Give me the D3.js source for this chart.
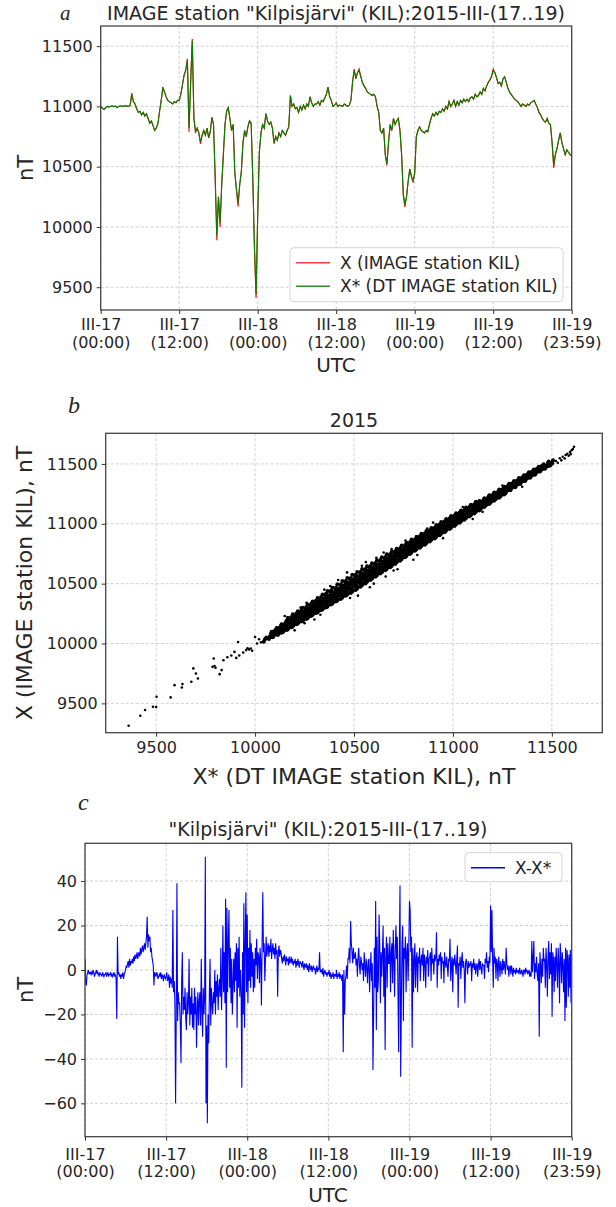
<!DOCTYPE html>
<html>
<head>
<meta charset="utf-8">
<script src="https://cdn.jsdelivr.net/npm/d3@7"></script>
<style>
  body { margin: 0; background: #fff; }
  text { font-family: "DejaVu Sans", sans-serif; fill: #262626; }
  .grid line { stroke: #c4c4c4; stroke-width: 0.8; stroke-dasharray: 3,2; }
  .frame { fill: none; stroke: #444; stroke-width: 1.3; }
  .letter { font-family: "Liberation Serif", serif; font-style: italic; }
</style>
</head>
<body>
<script>
//*********************** DATA ***********************
// sample step of the time series, hours
var stepA = 0.25,
    stepC = 0.1;

var hourTicks = [0, 12, 24, 36, 48, 60, 72],
    tickDay = ["III-17", "III-17", "III-18", "III-18", "III-19", "III-19", "III-19"],
    tickTime = ["(00:00)", "(12:00)", "(00:00)", "(12:00)", "(00:00)", "(12:00)", "(23:59)"],
    ticksA = [9500, 10000, 10500, 11000, 11500],
    ticksB = [9500, 10000, 10500, 11000, 11500],
    ticksC = [-60, -40, -20, 0, 20, 40];

// X, IMAGE station KIL (nT), every 15 min
var xObs = [
  11000,10985,10975,10990, 11000,10995,11000,11005, 10998,11002,10990,11000, 11005,11000,11003,11002,
  11005,11000,11008,11110, 11040,11020,10980,10950, 10960,10930,10950,10920, 10940,10900,10860,10880,
  10840,10800,10820,10860, 10960,11050,11160,11120, 11080,11050,11040,11030, 11020,11040,11030,11050,
  11050,11100,11180,11260, 11300,11395,10790,11200, 11560,10900,10780,10820, 10780,10690,10760,10800,
  10760,10820,10740,10790, 10910,10850,10400,9890, 10250,10000,10350,10600, 10850,10960,10990,10900,
  10800,10850,10450,10300, 10170,10350,10460,10700, 10800,10750,10830,10880, 10860,10400,9820,9410,
  10100,10620,10780,10850, 10820,10940,10880,10850, 10870,10820,10690,10750, 10720,10780,10750,10800,
  10780,10760,10800,10830, 11090,11000,11020,10980, 10990,10950,11000,10970, 11010,10980,11020,11000,
  11080,11030,11000,11020, 11020,11040,11010,11050, 11040,11070,11100,11160, 11080,11050,11000,11010,
  11030,11000,11010,11005, 11000,11020,11010,11000, 11010,11050,11200,11310, 11230,11280,11310,11250,
  11200,11170,11150,11120, 11110,11100,11090,11100, 11080,11000,10950,10800, 10780,10820,10600,10510,
  10700,10850,10800,10900, 10850,10880,10900,10800, 10600,10264,10167,10250, 10380,10480,10420,10370,
  10450,10750,10800,10830, 10800,10790,10780,10800, 10790,10850,10900,10940, 10920,10950,10930,10960,
  10950,10980,10960,11000, 10980,11040,11000,11020, 11050,11000,11040,11010, 11050,11030,11060,11040,
  11060,11040,11070,11080, 11060,11100,11080,11090, 11120,11100,11150,11130, 11170,11200,11220,11250,
  11310,11280,11240,11190, 11200,11170,11230,11245, 11200,11150,11120,11100, 11080,11060,11050,11040,
  11020,11000,11020,11010, 11000,11020,11010,11030, 11040,11050,11020,10990, 10950,10930,10900,10880,
  10870,10900,10860,10850, 10700,10490,10600,10650, 10720,10780,10700,10650, 10600,10640,10620,10600,
  10590
];

// X*, DT IMAGE station KIL (nT), every 15 min
var xDT = [
  11000,10985,10975,10990, 11000,10995,11000,11005, 10998,11002,10990,11000, 11005,11000,11003,11002,
  11005,11000,11008,11100, 11040,11020,10980,10950, 10960,10930,10950,10920, 10940,10900,10860,10880,
  10840,10800,10820,10860, 10960,11050,11150,11120, 11080,11050,11040,11030, 11020,11040,11030,11050,
  11050,11100,11180,11260, 11300,11380,10820,11200, 11545,10900,10790,10820, 10780,10705,10760,10800,
  10760,10820,10740,10790, 10910,10850,10420,9930, 10250,10030,10350,10600, 10850,10960,10990,10900,
  10800,10850,10450,10320, 10200,10350,10460,10700, 10800,10750,10830,10880, 10860,10400,9850,9440,
  10100,10620,10780,10850, 10820,10940,10880,10850, 10870,10820,10700,10750, 10720,10780,10750,10800,
  10780,10760,10800,10830, 11090,11000,11020,10980, 10990,10950,11000,10970, 11010,10980,11020,11000,
  11080,11030,11000,11020, 11020,11040,11010,11050, 11040,11070,11100,11160, 11080,11050,11000,11010,
  11030,11000,11010,11005, 11000,11020,11010,11000, 11010,11050,11200,11300, 11230,11280,11300,11250,
  11200,11170,11150,11120, 11110,11100,11090,11100, 11080,11000,10950,10800, 10780,10820,10600,10525,
  10700,10850,10800,10900, 10850,10880,10900,10800, 10600,10280,10185,10250, 10380,10480,10420,10380,
  10450,10750,10800,10830, 10800,10790,10780,10800, 10790,10850,10900,10940, 10920,10950,10930,10960,
  10950,10980,10960,11000, 10980,11040,11000,11020, 11050,11000,11040,11010, 11050,11030,11060,11040,
  11060,11040,11070,11080, 11060,11100,11080,11090, 11120,11100,11150,11130, 11170,11200,11220,11250,
  11295,11280,11240,11190, 11200,11170,11230,11245, 11200,11150,11120,11100, 11080,11060,11050,11040,
  11020,11000,11020,11010, 11000,11020,11010,11030, 11040,11050,11020,10990, 10950,10930,10900,10880,
  10870,10900,10860,10850, 10700,10515,10600,10650, 10720,10780,10700,10650, 10600,10640,10620,10600,
  10590
];

// X - X* (nT), every 6 min, one row per hour
var diffC = [
  5,-6,-7,-2,-1,0,-2,-1,-1,-2,  -1,-2,0,-1,-3,-2,-1,0,-2,-1,  -2,-3,-1,-2,-2,-3,-1,-2,-3,-2,
  -2,-1,-3,-2,-1,-3,-2,-2,-1,-3,  -2,-3,-2,-1,-3,-2,-4,-22,15,-2,  -1,-3,-2,-4,-2,-3,-1,-4,-2,-1,
  0,2,1,3,4,1,5,2,4,3,  5,3,6,4,7,5,6,8,5,7,  8,6,10,7,9,11,8,10,12,9,
  12,15,24,10,16,13,15,8,10,6,  4,2,-7,-1,-2,-3,-1,-2,-4,-3,  -2,-3,-1,-4,-2,-3,-5,-2,-3,-4,
  -3,-1,-5,-4,-2,-8,-3,-6,-4,-8,  27,-10,-5,-15,-60,-20,39,-23,-10,-15,  -15,-25,-42,-5,8,-20,-12,-18,-8,-22,
  -27,-10,-20,-15,5,-25,-12,-20,-8,-26,  -15,-27,-8,-20,-12,-35,-18,-10,-25,-14,  -10,-25,5,-18,-30,-8,-20,-12,51,-60,
  -25,-69,-20,-33,-10,5,-25,-8,-15,-20,  -10,-15,0,-20,-5,-12,-2,-18,-8,-4,  -12,10,-18,-5,20,-10,8,-15,32,-44,
  28,-10,12,27,-8,10,-15,5,-20,-6,  5,-10,8,-5,12,-26,10,-8,15,-12,  0,-10,-53,8,-20,30,-26,12,35,-10,
  25,-15,10,-5,18,-8,12,-3,8,-10,  5,-8,10,2,14,-4,8,6,-6,10,  4,-16,12,35,8,12,-5,5,15,6,
  10,12,6,11,8,14,5,9,12,7,  10,5,12,7,9,-12,8,11,6,9,  8,5,3,6,4,7,5,2,6,4,
  5,2,6,3,4,6,3,5,2,4,  3,5,1,4,2,5,3,1,4,3,  3,1,4,2,0,3,2,1,3,0,
  2,-1,3,1,0,2,-1,1,2,0,  1,-2,0,2,-1,1,0,8,-1,0,  0,-2,1,-3,-1,0,-2,-1,-3,-1,
  -2,0,-3,-1,-4,-2,-3,-1,-4,-2,  -2,-3,0,-4,-2,-3,-1,-4,-2,-3,  -5,-2,-37,0,-20,-5,-3,2,-4,5,
  5,10,3,22,12,8,3,10,5,6,  8,2,5,-3,6,10,2,-2,6,4,  0,3,-5,8,2,-3,5,1,-6,4,
  5,-10,0,8,-5,3,-45,-20,10,-8,  31,-27,15,-10,-5,25,12,-15,8,-3,  8,20,-12,10,-36,5,15,-8,12,3,
  3,15,-10,8,12,-6,18,5,-12,10,  20,5,15,-10,-37,8,38,-48,-15,12,  20,-23,10,5,15,-10,8,12,-5,10,
  31,27,8,15,-35,10,-10,5,12,-8,  5,8,-10,6,3,10,-5,4,7,2,  10,-5,7,4,-8,6,3,9,-3,5,
  6,8,-5,10,3,5,-2,7,4,6,  17,-8,5,2,7,4,8,-4,6,3,  4,-6,8,3,1,6,2,-3,5,4,
  14,-5,3,6,-10,5,2,7,3,-2,  5,11,-17,3,2,6,-4,4,8,1,  4,0,-15,3,5,2,-2,4,1,3,
  2,4,-5,3,1,5,0,3,-2,2,  3,-3,2,5,0,4,1,-2,3,2,  2,-4,5,3,8,1,4,-1,6,3,
  29,8,27,5,-8,10,3,6,-4,5,  3,-5,6,2,-3,4,1,-2,5,0,  4,1,-2,10,3,0,2,-3,1,2,
  -2,2,0,-3,1,-1,0,-2,1,-1,  -1,0,-2,1,-1,-2,0,-1,-3,0,  0,-2,1,-1,0,-2,-1,0,-3,-1,
  -3,13,-1,5,13,-4,3,-1,6,-2,  -5,3,-30,8,2,-6,5,-3,10,4,  5,-8,10,3,-12,6,13,-4,8,-2,
  12,-21,8,5,-10,6,-5,10,3,-8,  10,3,-15,12,6,-6,8,2,-10,5,  -23,10,-17,9,5,-12,7,-8,9,-15,
  -8
];

// scatter 2015: [X*, X] pairs, sparse low tail
var scatterTail = [
  [9361,9313],[9420,9397],[9444,9444],[9484,9472],[9500,9470],[9502,9555],[9573,9550],[9593,9652],
  [9633,9661],[9630,9633],[9678,9680],[9688,9792],[9701,9750],[9711,9708],[9785,9805],[9795,9812],
  [9800,9798],[9791,9875],[9821,9744],[9831,9778],[9840,9860],[9860,9885],[9880,9900],[9896,9930],
  [9914,10013],[9955,9945],[9962,9960],[9970,9950],[9978,9958],[9985,9940],[10000,10055],[10010,10000],
  [10020,10035],[10030,10010],[9920,9900],[9905,9880],[9940,9925]
];

// scatter 2015: [X*, X] pairs, dense band
var scatterBand = [
  [10050,10035],[10044,10015],[10057,10050],
  [10075,10060],[10070,10038],[10081,10085],[10078,10052],
  [10100,10090],[10094,10062],[10106,10118],[10103,10078],[10097,10105],
  [10125,10115],[10119,10082],[10131,10148],[10128,10100],[10122,10132],[10133,10090],
  [10150,10140],[10144,10105],[10156,10178],[10153,10125],[10147,10160],[10158,10112],
  [10175,10168],[10169,10128],[10181,10205],[10178,10150],[10172,10188],[10183,10135],[10166,10215],
  [10200,10195],[10194,10152],[10206,10235],[10203,10175],[10197,10215],[10208,10160],[10191,10245],
  [10225,10220],[10219,10175],[10231,10262],[10228,10200],[10222,10242],[10233,10183],[10216,10270],[10230,10230],
  [10250,10245],[10244,10198],[10256,10290],[10253,10225],[10247,10268],[10258,10205],[10241,10298],[10255,10255],
  [10275,10272],[10269,10225],[10281,10318],[10278,10250],[10272,10295],[10283,10230],[10266,10325],[10280,10282],
  [10300,10298],[10294,10248],[10306,10345],[10303,10275],[10297,10322],[10308,10255],[10291,10352],[10305,10310],
  [10325,10324],[10319,10272],[10331,10372],[10328,10300],[10322,10348],[10333,10278],[10316,10380],[10330,10335],[10320,10310],
  [10350,10350],[10344,10295],[10356,10400],[10353,10325],[10347,10375],[10358,10300],[10341,10410],[10355,10362],[10345,10338],
  [10375,10376],[10369,10320],[10381,10428],[10378,10350],[10372,10402],[10383,10325],[10366,10438],[10380,10390],[10370,10362],
  [10400,10402],[10394,10345],[10406,10455],[10403,10375],[10397,10428],[10408,10350],[10391,10465],[10405,10415],[10395,10388],
  [10425,10428],[10419,10370],[10431,10482],[10428,10400],[10422,10455],[10433,10372],[10416,10495],[10430,10440],[10420,10412],
  [10450,10455],[10444,10395],[10456,10510],[10453,10425],[10447,10482],[10458,10398],[10441,10522],[10455,10468],[10445,10440],
  [10475,10480],[10469,10420],[10481,10535],[10478,10450],[10472,10508],[10483,10422],[10466,10548],[10480,10495],[10470,10465],
  [10500,10506],[10494,10445],[10506,10560],[10503,10478],[10497,10535],[10508,10448],[10491,10575],[10505,10520],[10495,10490],
  [10525,10532],[10519,10472],[10531,10588],[10528,10505],[10522,10560],[10533,10475],[10516,10598],[10530,10545],[10520,10518],
  [10550,10558],[10544,10500],[10556,10612],[10553,10530],[10547,10585],[10558,10502],[10541,10622],[10555,10572],[10545,10545],
  [10575,10584],[10569,10528],[10581,10635],[10578,10556],[10572,10610],[10583,10530],[10566,10645],[10580,10598],[10570,10570],
  [10600,10610],[10594,10555],[10606,10660],[10603,10582],[10597,10635],[10608,10558],[10591,10670],[10605,10622],[10595,10596],
  [10625,10636],[10619,10582],[10631,10685],[10628,10610],[10622,10660],[10633,10585],[10616,10695],[10630,10648],[10620,10622],
  [10650,10662],[10644,10608],[10656,10710],[10653,10635],[10647,10686],[10658,10612],[10641,10720],[10655,10675],[10645,10648],
  [10675,10688],[10669,10635],[10681,10735],[10678,10660],[10672,10712],[10683,10638],[10666,10745],[10680,10700],[10670,10674],
  [10700,10714],[10694,10662],[10706,10760],[10703,10688],[10697,10738],[10708,10665],[10691,10768],[10705,10726],[10695,10700],
  [10725,10740],[10719,10690],[10731,10785],[10728,10715],[10722,10762],[10733,10692],[10716,10792],[10730,10752],
  [10750,10766],[10744,10718],[10756,10810],[10753,10740],[10747,10788],[10758,10720],[10741,10818],[10755,10778],
  [10775,10792],[10769,10745],[10781,10835],[10778,10768],[10772,10815],[10783,10748],[10766,10842],[10780,10805],
  [10800,10818],[10794,10772],[10806,10860],[10803,10795],[10797,10840],[10808,10775],[10791,10868],[10805,10830],
  [10825,10843],[10819,10798],[10831,10885],[10828,10820],[10822,10865],[10833,10800],[10816,10892],[10830,10856],
  [10850,10868],[10844,10824],[10856,10910],[10853,10846],[10847,10890],[10858,10826],[10841,10916],[10855,10880],
  [10875,10893],[10869,10850],[10881,10935],[10878,10872],[10872,10915],[10883,10852],[10866,10940],[10880,10905],
  [10900,10918],[10894,10876],[10906,10958],[10903,10898],[10897,10940],[10908,10878],[10891,10965],[10905,10930],
  [10925,10944],[10919,10902],[10931,10984],[10928,10924],[10922,10965],[10933,10905],[10916,10990],[10930,10955],
  [10950,10970],[10944,10928],[10956,11010],[10953,10950],[10947,10990],[10958,10930],[10941,11016],[10955,10982],
  [10975,10995],[10969,10955],[10981,11035],[10978,10975],[10972,11015],[10983,10956],[10966,11040],[10980,11006],
  [11000,11020],[10994,10980],[11006,11060],[11003,11000],[10997,11040],[11008,10982],[10991,11065],[11005,11030],
  [11025,11045],[11019,11005],[11031,11082],[11028,11025],[11022,11064],[11033,11008],[11016,11088],[11030,11055],
  [11050,11070],[11044,11032],[11056,11108],[11053,11050],[11047,11090],[11058,11034],[11041,11112],
  [11075,11095],[11069,11058],[11081,11132],[11078,11076],[11072,11114],[11083,11060],[11066,11136],
  [11100,11120],[11094,11084],[11106,11156],[11103,11102],[11097,11138],[11108,11086],[11091,11160],
  [11125,11145],[11119,11110],[11131,11180],[11128,11127],[11122,11163],[11133,11112],[11116,11184],
  [11150,11170],[11144,11136],[11156,11204],[11153,11152],[11147,11187],[11158,11140],
  [11175,11195],[11169,11162],[11181,11228],[11178,11178],[11172,11212],[11183,11166],
  [11200,11220],[11194,11188],[11206,11252],[11203,11203],[11197,11236],[11208,11192],
  [11225,11245],[11219,11214],[11231,11276],[11228,11228],[11222,11260],[11233,11218],
  [11250,11270],[11244,11240],[11256,11300],[11253,11254],[11247,11285],[11258,11244],
  [11275,11295],[11269,11266],[11281,11324],[11278,11280],[11272,11310],
  [11300,11320],[11294,11292],[11306,11348],[11303,11305],[11297,11334],
  [11325,11345],[11319,11318],[11331,11372],[11328,11330],[11322,11358],
  [11350,11370],[11344,11344],[11356,11396],[11353,11356],[11347,11382],
  [11375,11395],[11369,11370],[11381,11420],[11378,11382],[11372,11408],
  [11400,11420],[11394,11396],[11406,11444],[11403,11408],[11397,11432],
  [11425,11445],[11419,11422],[11431,11468],[11428,11434],[11422,11456],
  [11450,11468],[11444,11446],[11456,11490],[11453,11458],[11447,11480],
  [11475,11490],[11469,11470],[11481,11510],[11478,11480],
  [11500,11512],[11494,11494],[11506,11530],[11503,11503]
];

// scatter 2015: more band points, between the columns above
var scatterBand2 = [
  [10087,10076],[10090,10052],[10084,10098],
  [10112,10102],[10115,10072],[10109,10130],[10113,10088],
  [10137,10128],[10140,10094],[10134,10160],[10138,10112],[10136,10145],
  [10162,10155],[10165,10118],[10159,10190],[10163,10138],[10160,10172],
  [10187,10181],[10190,10140],[10184,10222],[10188,10162],[10185,10202],
  [10212,10207],[10215,10165],[10209,10250],[10213,10188],[10210,10228],
  [10237,10232],[10240,10188],[10234,10278],[10238,10212],[10235,10255],
  [10262,10258],[10265,10212],[10259,10305],[10263,10238],[10260,10282],[10266,10222],
  [10287,10285],[10290,10238],[10284,10332],[10288,10262],[10285,10308],[10291,10245],
  [10312,10311],[10315,10260],[10309,10360],[10313,10288],[10310,10335],[10316,10270],
  [10337,10337],[10340,10285],[10334,10388],[10338,10312],[10335,10362],[10341,10292],
  [10362,10363],[10365,10308],[10359,10415],[10363,10338],[10360,10390],[10366,10315],
  [10387,10389],[10390,10332],[10384,10442],[10388,10362],[10385,10415],[10391,10340],
  [10412,10415],[10415,10358],[10409,10468],[10413,10388],[10410,10442],[10416,10365],
  [10437,10441],[10440,10382],[10434,10495],[10438,10412],[10435,10468],[10441,10390],
  [10462,10467],[10465,10408],[10459,10522],[10463,10438],[10460,10495],[10466,10415],
  [10487,10493],[10490,10432],[10484,10548],[10488,10462],[10485,10520],[10491,10440],
  [10512,10519],[10515,10458],[10509,10574],[10513,10490],[10510,10548],[10516,10465],
  [10537,10545],[10540,10486],[10534,10600],[10538,10515],[10535,10572],[10541,10492],
  [10562,10571],[10565,10515],[10559,10622],[10563,10542],[10560,10598],[10566,10520],
  [10587,10597],[10590,10542],[10584,10648],[10588,10570],[10585,10622],[10591,10548],
  [10612,10623],[10615,10568],[10609,10672],[10613,10596],[10610,10648],[10616,10575],
  [10637,10649],[10640,10595],[10634,10698],[10638,10622],[10635,10672],[10641,10600],
  [10662,10675],[10665,10622],[10659,10722],[10663,10648],[10660,10698],[10666,10628],
  [10687,10701],[10690,10648],[10684,10748],[10688,10675],[10685,10725],[10691,10655],
  [10712,10727],[10715,10676],[10709,10772],[10713,10702],[10710,10750],
  [10737,10753],[10740,10704],[10734,10798],[10738,10728],[10735,10776],
  [10762,10779],[10765,10732],[10759,10822],[10763,10755],[10760,10800],
  [10787,10805],[10790,10758],[10784,10848],[10788,10782],[10785,10826],
  [10812,10830],[10815,10785],[10809,10872],[10813,10808],[10810,10852],
  [10837,10855],[10840,10812],[10834,10898],[10838,10834],[10835,10876],
  [10862,10880],[10865,10838],[10859,10922],[10863,10860],[10860,10900],
  [10887,10905],[10890,10864],[10884,10946],[10888,10885],[10885,10926],
  [10912,10931],[10915,10890],[10909,10970],[10913,10910],[10910,10952],
  [10937,10957],[10940,10916],[10934,10996],[10938,10937],[10935,10978],
  [10962,10982],[10965,10942],[10959,11022],[10963,10962],[10960,11002],
  [10987,11007],[10990,10968],[10984,11046],[10988,10988],[10985,11026],
  [11012,11032],[11015,10994],[11009,11070],[11013,11012],[11010,11052],
  [11037,11057],[11040,11020],[11034,11094],[11038,11038],[11035,11076],
  [11062,11082],[11065,11046],[11059,11118],[11063,11064],
  [11087,11107],[11090,11072],[11084,11142],[11088,11090],
  [11112,11132],[11115,11098],[11109,11166],[11113,11116],
  [11137,11157],[11140,11124],[11134,11190],[11138,11140],
  [11162,11182],[11165,11150],[11159,11214],[11163,11166],
  [11187,11207],[11190,11176],[11184,11238],[11188,11192],
  [11212,11232],[11215,11202],[11209,11262],[11213,11218],
  [11237,11257],[11240,11228],[11234,11286],[11238,11244],
  [11262,11282],[11265,11254],[11259,11310],
  [11287,11307],[11290,11280],[11284,11334],
  [11312,11332],[11315,11306],[11309,11358],
  [11337,11357],[11340,11332],[11334,11382],
  [11362,11382],[11365,11358],[11359,11406],
  [11387,11407],[11390,11384],[11384,11430],
  [11412,11432],[11415,11410],[11409,11454],
  [11437,11456],[11440,11436],[11434,11476],
  [11462,11479],[11465,11460],[11459,11498],
  [11487,11501],[11490,11484],[11484,11520]
];

// scatter 2015: sparse top end and points off the band
var scatterOut = [
  [11520,11525],[11530,11510],[11540,11548],[11548,11530],[11555,11560],[11565,11545],[11570,11575],
  [11578,11585],[11585,11568],[11592,11600],[11600,11615],[11606,11625],[11612,11644],[11595,11582],
  [10465,10594],[10613,10717],[10520,10400],[10660,10560],[10380,10480],[10800,10700],[10300,10200],
  [10230,10300],[10560,10680],[10720,10620],[10900,11010],[11100,11040],
  [10150,10230],[10200,10110],[10260,10340],[10330,10240],[10420,10530],[10480,10380],[10540,10650],
  [10600,10500],[10650,10760],[10700,10610],[10760,10860],[10820,10740],[10870,10960],[10950,10880],
  [11050,11140],[11150,11100],[11250,11320],[11350,11310],[10350,10450],[10250,10170],[10580,10470],
  [10690,10790]
];

//*********************** LAYOUT ***********************
var width = 616,
    height = 1207,
    boxA = {left: 100.7, right: 571.7, top: 26, bottom: 310},
    boxB = {left: 105.7, right: 602.3, top: 433.3, bottom: 732.7},
    boxC = {left: 85, right: 571.7, top: 843.3, bottom: 1136.7};

var svg = d3.select("body").append("svg")
    .attr("width", width)
    .attr("height", height);

var xA = d3.scaleLinear().domain([0, 72]).range([boxA.left, boxA.right]),
    yA = d3.scaleLinear().domain([9311, 11667]).range([boxA.bottom, boxA.top]),
    xB = d3.scaleLinear().domain([9245, 11755]).range([boxB.left, boxB.right]),
    yB = d3.scaleLinear().domain([9255, 11756]).range([boxB.bottom, boxB.top]),
    xC = d3.scaleLinear().domain([0, 72]).range([boxC.left, boxC.right]),
    yC = d3.scaleLinear().domain([-75, 57]).range([boxC.bottom, boxC.top]);

var fmt = d3.format("d");

//*********************** HELPERS ***********************
function addGrid(box, xs, ys, xv, yv) {
  var g = svg.append("g").attr("class", "grid");
  g.selectAll("line.gx").data(xv).enter().append("line")
    .attr("class", "gx")
    .attr("x1", function(d) { return xs(d); })
    .attr("x2", function(d) { return xs(d); })
    .attr("y1", box.top)
    .attr("y2", box.bottom);
  g.selectAll("line.gy").data(yv).enter().append("line")
    .attr("class", "gy")
    .attr("y1", function(d) { return ys(d); })
    .attr("y2", function(d) { return ys(d); })
    .attr("x1", box.left)
    .attr("x2", box.right);
}

function addFrame(box) {
  svg.append("rect")
    .attr("class", "frame")
    .attr("x", box.left)
    .attr("y", box.top)
    .attr("width", box.right - box.left)
    .attr("height", box.bottom - box.top);
}

function addClip(id, box) {
  svg.append("defs").append("clipPath")
    .attr("id", id)
    .append("rect")
    .attr("x", box.left)
    .attr("y", box.top)
    .attr("width", box.right - box.left)
    .attr("height", box.bottom - box.top);
}

function styleAxis(ax) {
  ax.attr("font-family", "DejaVu Sans, sans-serif")
    .attr("font-size", 16)
    .attr("color", "#333");
  ax.select(".domain").remove();
  ax.selectAll(".tick text").attr("fill", "#262626");
}

function leftAxis(box, ys, vals) {
  var ax = svg.append("g")
    .attr("transform", "translate(" + box.left + ",0)")
    .call(d3.axisLeft(ys).tickValues(vals).tickFormat(fmt).tickSize(4).tickPadding(4));
  styleAxis(ax);
}

function timeAxis(box, xs, dy1, dy2) {
  var ax = svg.append("g")
    .attr("transform", "translate(0," + box.bottom + ")")
    .call(d3.axisBottom(xs).tickValues(hourTicks).tickSize(4).tickFormat(""));
  styleAxis(ax);
  ax.selectAll(".tick text").each(function(d, i) {
    var t = d3.select(this).attr("y", null).attr("dy", null);
    t.append("tspan").attr("x", 0).attr("y", dy1).text(tickDay[i]);
    t.append("tspan").attr("x", 0).attr("y", dy2).text(tickTime[i]);
  });
}

function addText(x, y, s, size, anchor, rot) {
  var t = svg.append("text")
    .attr("x", x)
    .attr("y", y)
    .attr("font-size", size)
    .attr("text-anchor", anchor || "middle")
    .text(s);
  if (rot) t.attr("transform", "rotate(-90," + x + "," + y + ")");
  return t;
}

function addLegend(x, y, w, h, items) {
  var g = svg.append("g").attr("transform", "translate(" + x + "," + y + ")");
  g.append("rect")
    .attr("width", w)
    .attr("height", h)
    .attr("rx", 4)
    .attr("fill", "#fff")
    .attr("fill-opacity", 0.85)
    .attr("stroke", "#d6d6d6");
  items.forEach(function(it, i) {
    var cy = 15 + i * 23.5;
    g.append("line")
      .attr("x1", 6).attr("x2", 40)
      .attr("y1", cy).attr("y2", cy)
      .attr("stroke", it.color)
      .attr("stroke-width", 1.5);
    g.append("text")
      .attr("x", 50)
      .attr("y", cy + 6)
      .attr("font-size", 17)
      .text(it.label);
  });
}

//*********************** PANEL A ***********************
addClip("clipA", boxA);
addGrid(boxA, xA, yA, hourTicks, ticksA);

var lineA = function(vals) {
  return d3.line()
    .x(function(d, i) { return xA(i * stepA); })
    .y(function(d) { return yA(d); })(vals);
};

svg.append("path")
  .attr("d", lineA(xObs))
  .attr("clip-path", "url(#clipA)")
  .attr("fill", "none")
  .attr("stroke", "#ff0000")
  .attr("stroke-width", 1.1);

svg.append("path")
  .attr("d", lineA(xDT))
  .attr("clip-path", "url(#clipA)")
  .attr("fill", "none")
  .attr("stroke", "#008000")
  .attr("stroke-width", 1.1);

addFrame(boxA);
leftAxis(boxA, yA, ticksA);
timeAxis(boxA, xA, 20, 37.5);
addText(336, 19.5, 'IMAGE station "Kilpisjärvi" (KIL):2015-III-(17..19)', 19);
addText(336, 372, "UTC", 20);
addText(33, 168, "nT", 21, "middle", true);
addText(60, 19.5, "a", 21, "start").attr("class", "letter");
addLegend(290, 247.7, 273, 54, [
  {label: "X (IMAGE station KIL)", color: "#ff4040"},
  {label: "X* (DT IMAGE station KIL)", color: "#2e8b2e"}
]);

//*********************** PANEL B ***********************
addClip("clipB", boxB);
addGrid(boxB, xB, yB, ticksB, ticksB);

var dots = svg.append("g").attr("clip-path", "url(#clipB)");

// sparse points drawn small, the dense band a bit larger so it closes up
[[scatterTail, 1.3], [scatterOut, 1.3], [scatterBand, 2], [scatterBand2, 2]].forEach(function(s) {
  dots.append("g")
    .selectAll("circle")
    .data(s[0])
    .enter()
    .append("circle")
    .attr("cx", function(d) { return xB(d[0]); })
    .attr("cy", function(d) { return yB(d[1]); })
    .attr("r", s[1])
    .attr("fill", "#000");
});

addFrame(boxB);
leftAxis(boxB, yB, ticksB);
var axB = svg.append("g")
  .attr("transform", "translate(0," + boxB.bottom + ")")
  .call(d3.axisBottom(xB).tickValues(ticksB).tickFormat(fmt).tickSize(4).tickPadding(5));
styleAxis(axB);
addText(354, 427, "2015", 19);
addText(354, 784, "X* (DT IMAGE station KIL), nT", 22);
addText(32, 583, "X (IMAGE station KIL), nT", 22, "middle", true);
addText(68, 413, "b", 24, "start").attr("class", "letter");

//*********************** PANEL C ***********************
addClip("clipC", boxC);
addGrid(boxC, xC, yC, hourTicks, ticksC);

svg.append("path")
  .datum(diffC)
  .attr("d", d3.line()
    .x(function(d, i) { return xC(i * stepC); })
    .y(function(d) { return yC(d); }))
  .attr("clip-path", "url(#clipC)")
  .attr("fill", "none")
  .attr("stroke", "#0000ff")
  .attr("stroke-width", 1.1);

addFrame(boxC);
leftAxis(boxC, yC, ticksC);
timeAxis(boxC, xC, 23.3, 40.5);
addText(328, 836, '"Kilpisjärvi" (KIL):2015-III-(17..19)', 19);
addText(328, 1202, "UTC", 20);
addText(33, 990, "nT", 21, "middle", true);
addText(78, 810, "c", 24, "start").attr("class", "letter");
addLegend(465, 852.7, 97, 29, [
  {label: "X-X*", color: "#0000ff"}
]);
</script>
</body>
</html>
